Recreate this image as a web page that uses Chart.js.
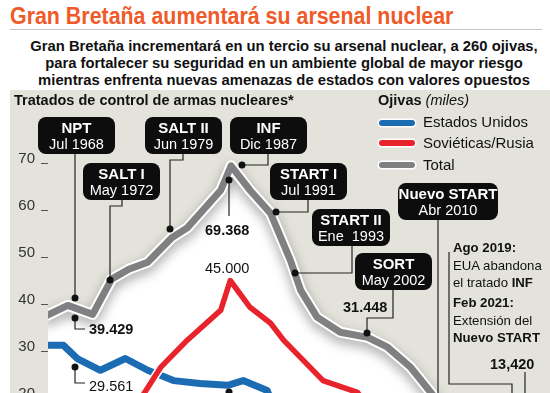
<!DOCTYPE html>
<html lang="es">
<head>
  <meta charset="UTF-8">
  <title>Gran Bretaña aumentará su arsenal nuclear</title>
  <script src="https://cdn.jsdelivr.net/npm/chart.js"></script>
  <style>
    body {
      margin: 0;
      width: 550px;
      height: 393px;
      overflow: hidden;
      background: #fff;
      font-family: 'Liberation Sans', Arial, sans-serif;
      color: #111;
      position: relative;
    }
    .abs { position: absolute; white-space: nowrap; }
    .title {
      left: 10px; top: 3px;
      font-size: 23px; font-weight: bold; color: #f05a28;
      transform: scaleX(0.93); transform-origin: left center;
    }
    .rule { left: 10px; top: 29px; width: 532px; height: 1px; background: #c4c4c4; }
    .sub {
      left: 0; top: 38px; width: 568px; text-align: center;
      font-size: 14.8px; font-weight: bold; line-height: 17px;
    }
    .panel { left: 10px; top: 90px; width: 540px; height: 310px; background: #e4e3db; }
    .head { font-size: 14.5px; font-weight: bold; line-height: 18px; }
    .legend { font-size: 15px; line-height: 18px; }
    .swatch {
      position: absolute; width: 36px; height: 6px; border-radius: 3px;
      box-shadow: 0 0 0 1.5px #fff;
    }
    .box {
      position: absolute; background: #0d0d0d; color: #fff;
      border-radius: 8px; text-align: center;
      font-size: 14.5px; line-height: 16px; padding-top: 3px; box-sizing: border-box;
    }
    .box b { display: block; font-size: 15px; }
    .val { font-size: 14.5px; font-weight: bold; line-height: 18px; }
    .note { font-size: 13.2px; line-height: 17.5px; }
    #chartWrap { position: absolute; left: 0; top: 0; width: 550px; height: 460px; }
  </style>
</head>
<body>
  <div class="abs title">Gran Bretaña aumentará su arsenal nuclear</div>
  <div class="abs rule"></div>
  <div class="abs sub">Gran Bretaña incrementará en un tercio su arsenal nuclear, a 260 ojivas,<br>para fortalecer su seguridad en un ambiente global de mayor riesgo<br>mientras enfrenta nuevas amenazas de estados con valores opuestos</div>
  <div class="abs panel"></div>

  <div id="chartWrap"><canvas id="chart" width="550" height="460"></canvas></div>

  <div class="abs head" style="left:14px; top:91px;">Tratados de control de armas nucleares*</div>
  <div class="abs head" style="left:378px; top:91px;">Ojivas <i style="font-weight:normal">(miles)</i></div>

  <div class="swatch" style="left:379px; top:120px; background:#1b6cb3;"></div>
  <div class="abs legend" style="left:423px; top:113px;">Estados Unidos</div>
  <div class="swatch" style="left:379px; top:140px; background:#e8232b;"></div>
  <div class="abs legend" style="left:423px; top:134px;">Soviéticas/Rusia</div>
  <div class="swatch" style="left:379px; top:162px; background:#808083;"></div>
  <div class="abs legend" style="left:423px; top:156px;">Total</div>

  <div class="box" style="left:38px; top:117px; width:77px; height:37px;"><b>NPT</b>Jul 1968</div>
  <div class="box" style="left:83px; top:163px; width:77px; height:37px;"><b>SALT I</b>May 1972</div>
  <div class="box" style="left:145px; top:117px; width:77px; height:37px;"><b>SALT II</b>Jun 1979</div>
  <div class="box" style="left:230px; top:117px; width:77px; height:37px;"><b>INF</b>Dic 1987</div>
  <div class="box" style="left:270px; top:163px; width:77px; height:37px;"><b>START I</b>Jul 1991</div>
  <div class="box" style="left:312px; top:209px; width:78px; height:37px;"><b>START II</b>Ene&nbsp; 1993</div>
  <div class="box" style="left:355px; top:253px; width:77px; height:37px;"><b>SORT</b>May 2002</div>
  <div class="box" style="left:398px; top:183px; width:100px; height:37px;"><b>Nuevo START</b>Abr 2010</div>

  <div class="abs val" style="left:205px; top:221px;">69.368</div>
  <div class="abs val" style="left:205px; top:259px; font-weight:normal;">45.000</div>
  <div class="abs val" style="left:89px; top:320px;">39.429</div>
  <div class="abs val" style="left:89px; top:377px; font-weight:normal;">29.561</div>
  <div class="abs val" style="left:343px; top:298px;">31.448</div>
  <div class="abs val" style="left:490px; top:355px;">13,420</div>

  <div class="abs note" style="left:453px; top:239px;"><b>Ago 2019:</b><br>EUA abandona<br>el tratado <b>INF</b></div>
  <div class="abs note" style="left:453px; top:294px;"><b>Feb 2021:</b><br>Extensión del<br><b>Nuevo START</b></div>

  <script>
    // ojivas en miles
    const usYears = [1964.7, 1966.6, 1968.2, 1970.9, 1973.8, 1976.4, 1979.4, 1982.5, 1985.7, 1987.5, 1990.3, 1992.0];
    const usValues = [31.2, 31.2, 28.4, 25.9, 28.4, 25.9, 23.7, 23.1, 22.7, 23.7, 21.6, 14.0];

    const sovYears = [1973.0, 1975.6, 1977.9, 1981.0, 1984.9, 1986.0, 1988.3, 1990.7, 1992.2, 1996.8, 2000.8, 2003.0];
    const sovValues = [14.0, 19.9, 26.5, 32.3, 38.7, 45.0, 39.3, 35.9, 32.3, 23.7, 21.2, 16.0];

    const totalYears = [1964.7, 1967.1, 1970.0, 1972.2, 1974.2, 1976.4, 1979.2, 1981.0, 1984.9, 1986.1, 1988.3, 1990.7, 1993.0, 1994.2, 1996.1, 1998.8, 2002.0, 2004.3, 2007.0, 2008.5, 2010.5, 2013.0];
    const totalValues = [37.6, 39.7, 37.8, 45.3, 47.4, 48.9, 54.1, 56.2, 64.2, 69.4, 64.2, 59.3, 49.3, 42.9, 37.2, 34.0, 32.9, 30.8, 26.5, 23.1, 18.5, 15.0];

    const yTicks = [20, 30, 40, 50, 60, 70];

    const pts = (xs, ys) => xs.map((x, i) => ({ x: x, y: ys[i] }));

    // líneas guía de los recuadros (px)
    const leaders = [
      [[75,154],[75,298]],
      [[122,200],[122,206],[110,206],[110,280]],
      [[183,154],[183,160],[170,160],[170,229]],
      [[268,154],[268,165],[242,165]],
      [[308,200],[308,212],[276,212]],
      [[352,246],[352,273],[295,273]],
      [[393,290],[393,318],[367,318],[367,333]],
      [[438,220],[438,400]],
      [[449,252],[449,384],[512,384],[512,400]],
      [[525,372],[525,400]],
      [[229,180],[229,216]],
      [[75,318],[75,329],[85,329]],
      [[75,367],[75,383],[85,383]]
    ];
    const dots = [[75,298],[110,280],[170,229],[242,165],[276,212],[295,273],[367,333],[229,180],[75,318],[75,367],[229,392]];

    const leaderPlugin = {
      id: 'leaders',
      beforeDatasetDraw(chart, args) {
        if (chart.data.datasets[args.index].shadow) {
          const ctx = chart.ctx;
          ctx.save();
          ctx.shadowColor = 'rgba(0,0,0,0.35)';
          ctx.shadowBlur = 12;
          ctx.shadowOffsetY = 5;
        }
      },
      afterDatasetDraw(chart, args) {
        if (chart.data.datasets[args.index].shadow) chart.ctx.restore();
      },
      afterDraw(chart) {
        const ctx = chart.ctx;
        ctx.save();
        ctx.strokeStyle = '#222';
        ctx.lineWidth = 1.2;
        leaders.forEach(l => {
          ctx.beginPath();
          l.forEach((p, i) => i ? ctx.lineTo(p[0], p[1]) : ctx.moveTo(p[0], p[1]));
          ctx.stroke();
        });
        ctx.fillStyle = '#111';
        dots.forEach(d => {
          ctx.beginPath();
          ctx.arc(d[0], d[1], 3.5, 0, Math.PI * 2);
          ctx.fill();
        });
        ctx.restore();
      }
    };

    const line = (data, color, width, order, extra) => Object.assign({
      data: data, borderColor: color, borderWidth: width, order: order,
      pointRadius: 0, tension: 0, fill: false,
      borderJoinStyle: 'round', borderCapStyle: 'round'
    }, extra || {});

    new Chart(document.getElementById('chart'), {
      type: 'line',
      data: {
        datasets: [
          line(pts(totalYears, totalValues), 'rgba(0,0,0,0)', 0, 10, { fill: 'start', backgroundColor: '#ffffff' }),
          line(pts(totalYears, totalValues), '#ffffff', 11, 9, { shadow: true }),
          line(pts(totalYears, totalValues), '#808083', 7, 8),
          line(pts(usYears, usValues), '#ffffff', 10, 7),
          line(pts(usYears, usValues), '#1b6cb3', 7, 6),
          line(pts(sovYears, sovValues), '#ffffff', 8.5, 5),
          line(pts(sovYears, sovValues), '#e8232b', 5.5, 4)
        ]
      },
      options: {
        responsive: false,
        animation: false,
        layout: { padding: { top: 139.5, bottom: 5.6, left: 0, right: 0 } },
        plugins: { legend: { display: false }, tooltip: { enabled: false } },
        scales: {
          x: { type: 'linear', min: 1964.8, max: 2023.2, display: false },
          y: {
            min: 10, max: 75,
            afterFit: s => { s.width = 48; },
            afterBuildTicks: s => { s.ticks = yTicks.map(v => ({ value: v })); },
            border: { display: false },
            grid: { drawOnChartArea: false, drawTicks: true, tickLength: 7, color: '#555', lineWidth: 1 },
            ticks: { padding: 6, labelOffset: -4, color: '#333', font: { family: 'Liberation Sans', size: 15 } }
          }
        }
      },
      plugins: [leaderPlugin]
    });
  </script>
</body>
</html>
